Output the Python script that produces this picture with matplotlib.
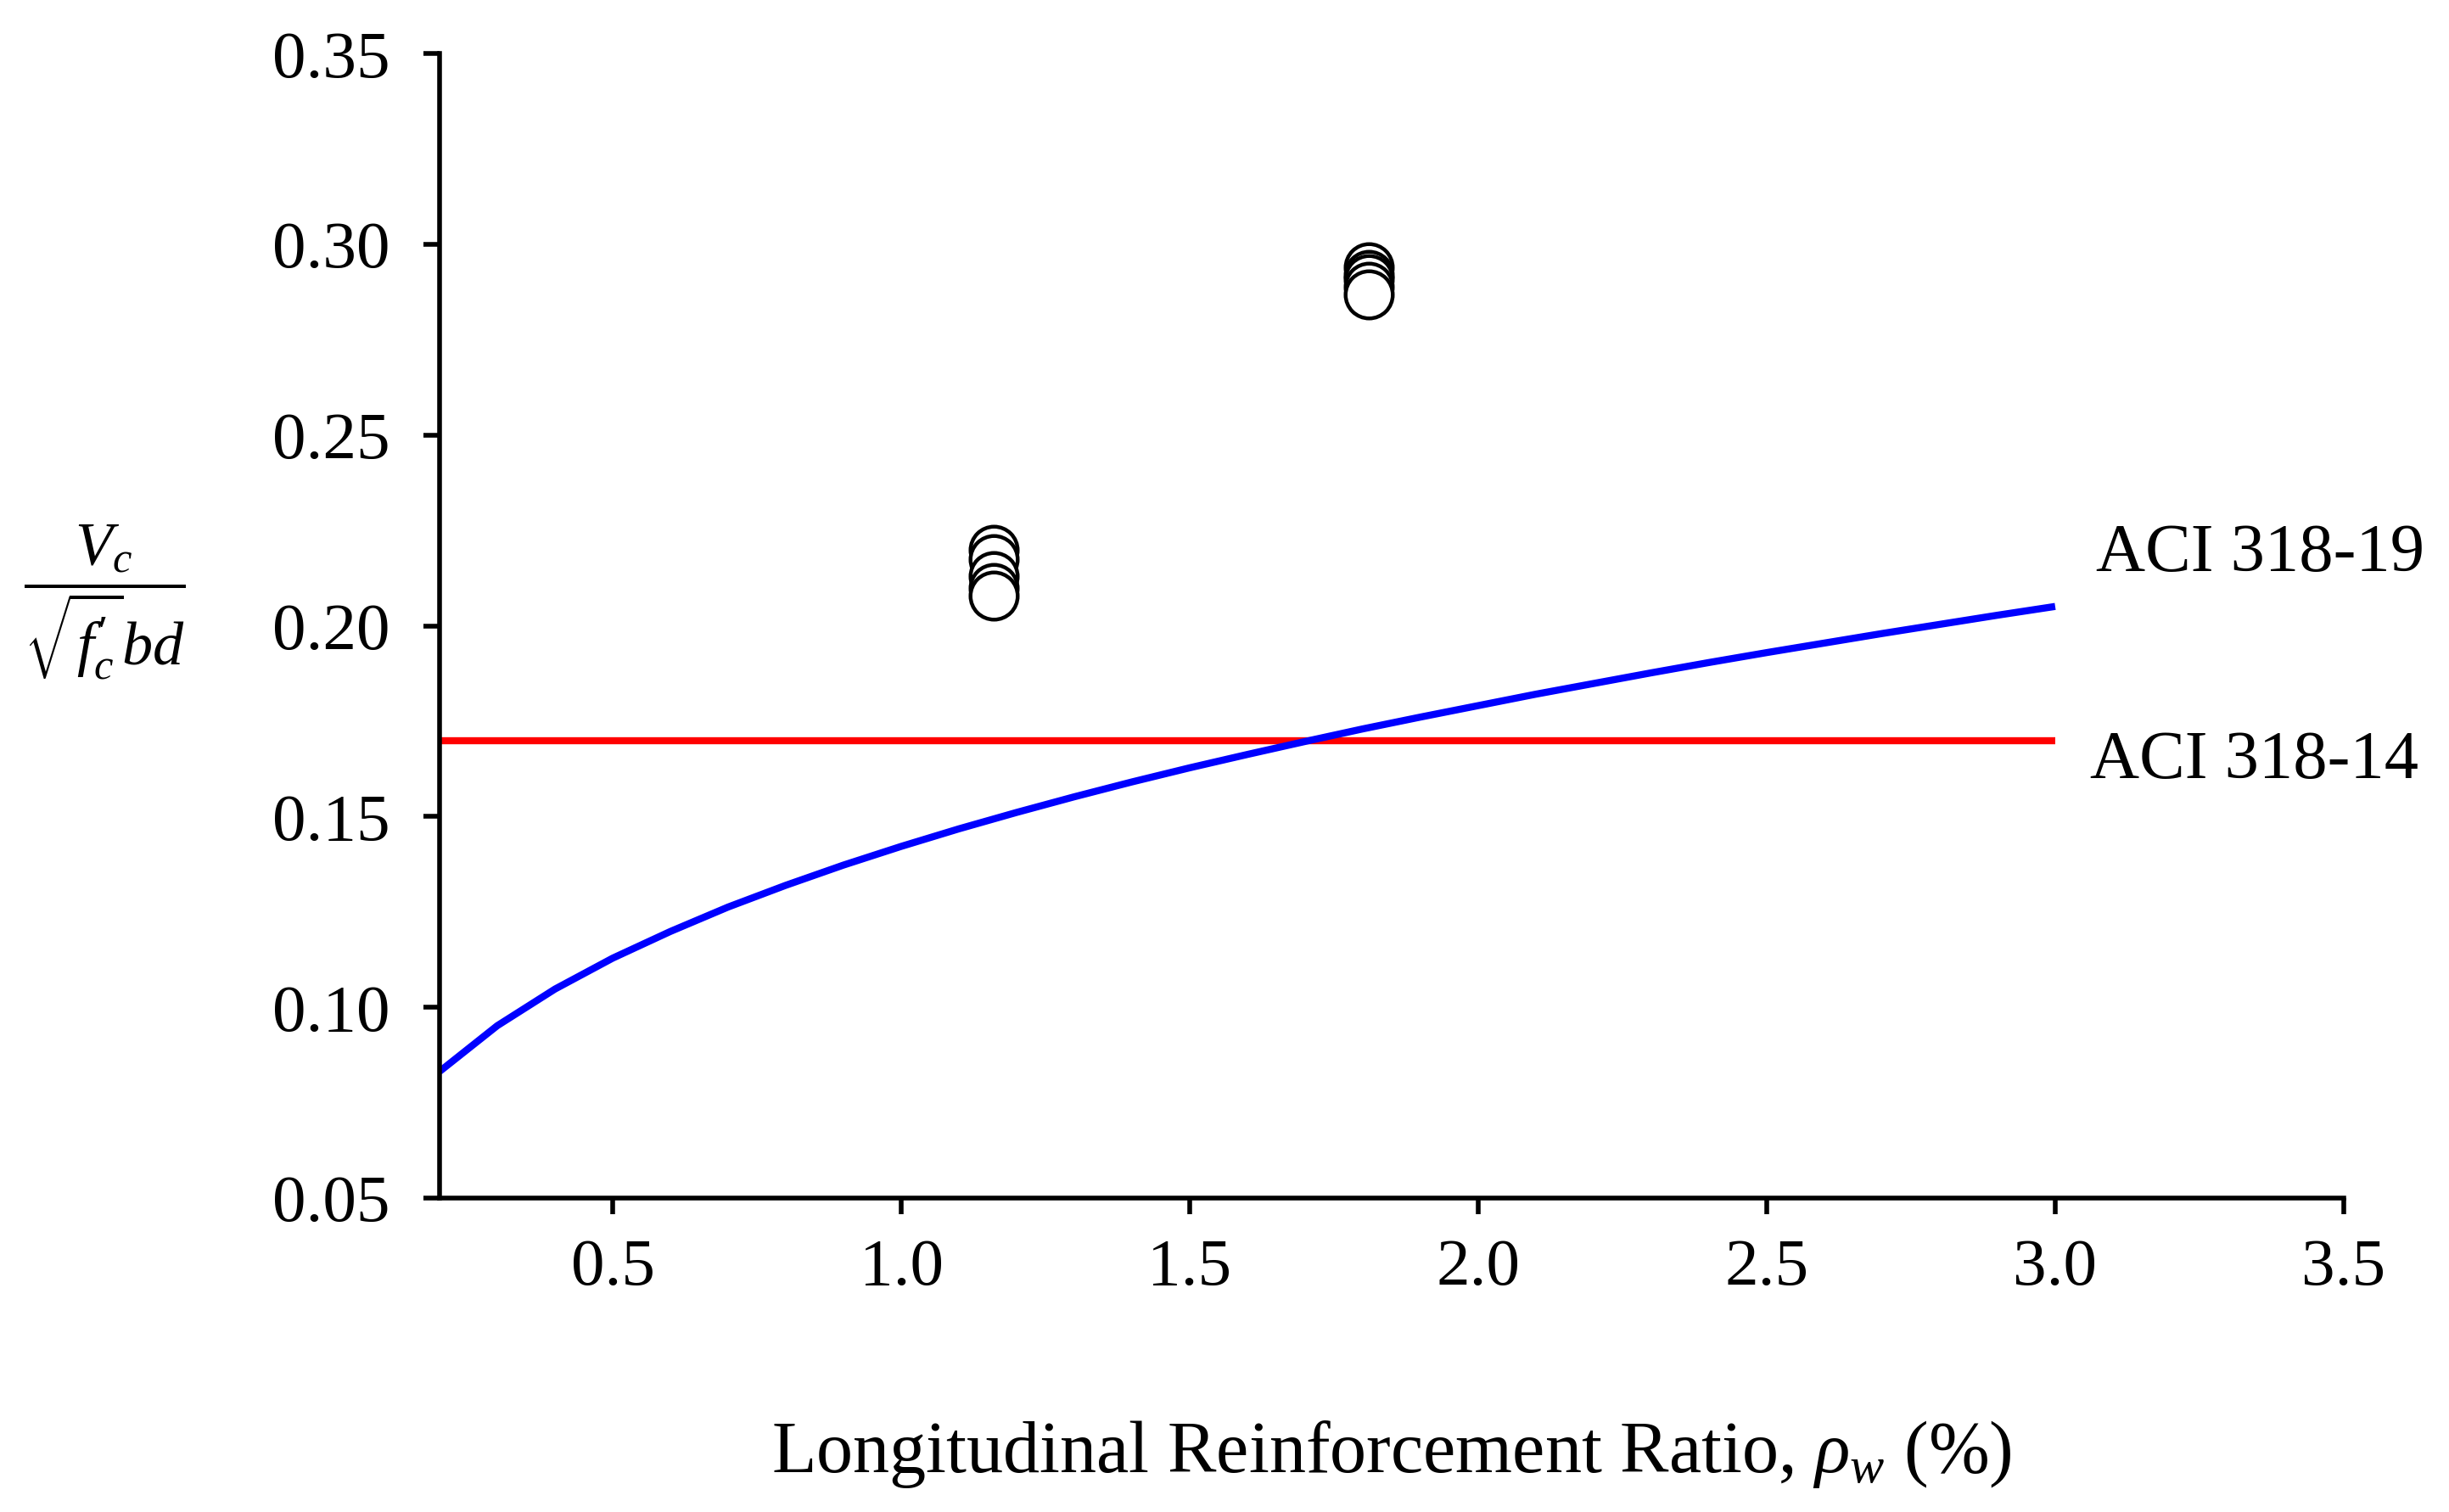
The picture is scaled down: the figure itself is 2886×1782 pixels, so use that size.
import numpy as np
import matplotlib
matplotlib.use("Agg")
import matplotlib.pyplot as plt

plt.rcParams["font.family"] = ["Liberation Serif", "DejaVu Serif"]
plt.rcParams["mathtext.fontset"] = "custom"
plt.rcParams["mathtext.rm"] = "Liberation Serif"
plt.rcParams["mathtext.it"] = "Liberation Serif:italic"

# ACI 318-19 curve (rho_w in %)
rho_aci19 = [0.2, 0.3, 0.4, 0.5, 0.6, 0.7, 0.8, 0.9, 1.0, 1.1, 1.2, 1.3, 1.4, 1.5,
             1.6, 1.7, 1.8, 1.9, 2.0, 2.1, 2.2, 2.3, 2.4, 2.5, 2.6, 2.7, 2.8, 2.9, 3.0]
vc_aci19 = [0.0832, 0.0952, 0.1048, 0.1129, 0.1199, 0.1263, 0.1320, 0.1373, 0.1422,
            0.1468, 0.1511, 0.1552, 0.1591, 0.1628, 0.1663, 0.1697, 0.1730, 0.1761,
            0.1791, 0.1821, 0.1849, 0.1877, 0.1904, 0.1930, 0.1955, 0.1980, 0.2004,
            0.2028, 0.2051]

# ACI 318-14 constant value
rho_aci14 = [0.2, 3.0]
vc_aci14 = [0.17, 0.17]

# test results
rho_test = [1.16, 1.16, 1.16, 1.16, 1.16, 1.81, 1.81, 1.81, 1.81, 1.81]
vc_test = [0.220, 0.2175, 0.213, 0.210, 0.208, 0.294, 0.292, 0.291, 0.289, 0.287]

xticks = [0.5, 1.0, 1.5, 2.0, 2.5, 3.0, 3.5]
yticks = [0.05, 0.10, 0.15, 0.20, 0.25, 0.30, 0.35]

fig = plt.figure(figsize=(14.43, 8.91), dpi=200)
ax = fig.add_axes([0.1795, 0.2076, 0.7775, 0.7569])

ax.plot(rho_aci14, vc_aci14, color="red", lw=3.0, solid_capstyle="butt")
ax.plot(rho_aci19, vc_aci19, color="blue", lw=3.0, solid_capstyle="butt")
ax.plot(rho_test, vc_test, "o", ms=20, mfc="white", mec="black", mew=1.6, ls="none")

ax.text(3.07, 0.2144, "ACI 318-19", fontsize=29, va="baseline", ha="left")
ax.text(3.06, 0.1601, "ACI 318-14", fontsize=29, va="baseline", ha="left")

ax.set_xlim(0.2, 3.5)
ax.set_ylim(0.05, 0.35)
ax.set_xticks(xticks)
ax.set_yticks(yticks)
ax.set_xticklabels([f"{v:.1f}" for v in xticks])
ax.set_yticklabels([f"{v:.2f}" for v in yticks])

for s in ["top", "right"]:
    ax.spines[s].set_visible(False)
for s in ["left", "bottom"]:
    ax.spines[s].set_linewidth(2.0)
ax.tick_params(axis="both", direction="out", length=7, width=2.0, labelsize=28.5)
ax.tick_params(axis="y", pad=14)
ax.tick_params(axis="x", pad=10)

ax.set_xlabel(r"Longitudinal Reinforcement Ratio, $\rho_w$ (%)", fontsize=31, labelpad=51)
fig.text(0.0426, 0.602, r"$\dfrac{V_c}{\sqrt{f^{\prime}_c}bd}$", fontsize=26,
         ha="center", va="center")

fig.savefig("out.png", dpi=200)
